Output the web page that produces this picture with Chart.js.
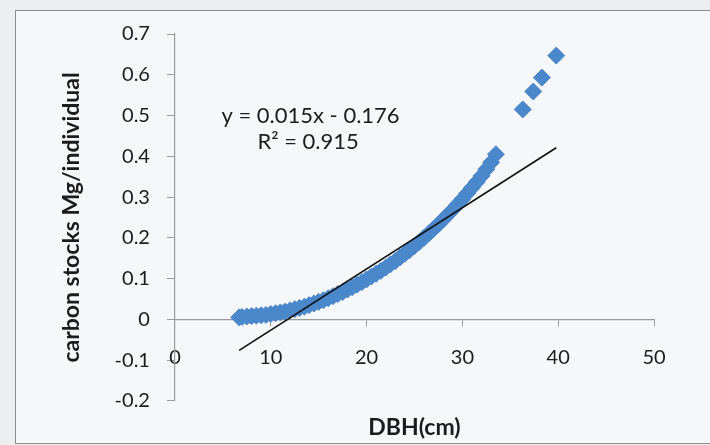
<!DOCTYPE html>
<html>
<head>
<meta charset="utf-8">
<script src="https://cdn.jsdelivr.net/npm/chart.js@4"></script>
<style>
  html, body { margin: 0; padding: 0; background: #eceef0; }
  #frame {
    position: absolute; left: 15px; top: 10px; width: 710px; height: 432px;
    border: 1.5px solid #8c8c8c; background: #f6f7f9;
  }
  #wrap { position: absolute; left: 0; top: 0; width: 710px; height: 445px; }
</style>
</head>
<body>
<div id="frame"></div>
<div id="wrap"><canvas id="chart" width="710" height="445"></canvas></div>
<script>
// DBH (cm) of each tree and its carbon stock (Mg/individual)
const dbh = [
  6.7, 7, 7.5, 8, 8.5, 9, 9.5, 10, 10.5, 11, 11.5, 12, 12.5, 13, 13.5, 14, 14.5,
  15, 15.5, 16, 16.5, 17, 17.5, 18, 18.5, 19, 19.5, 20, 20.5, 21, 21.5, 22, 22.5,
  23, 23.5, 24, 24.5, 25, 25.5, 26, 26.5, 27, 27.5, 28, 28.5, 29, 29.5, 30, 30.5,
  31, 31.5, 32, 32.5, 33, 33.5,
  36.3, 37.4, 38.3, 39.8
];
const carbon = [
  0.005, 0.006, 0.007, 0.008, 0.009, 0.010, 0.011, 0.013, 0.015, 0.017, 0.019, 0.022, 0.025, 0.028, 0.031, 0.035, 0.039,
  0.043, 0.047, 0.052, 0.057, 0.062, 0.067, 0.073, 0.079, 0.085, 0.091, 0.098, 0.105, 0.112, 0.119, 0.127, 0.135,
  0.143, 0.152, 0.161, 0.170, 0.180, 0.190, 0.200, 0.211, 0.222, 0.233, 0.245, 0.257, 0.269, 0.282, 0.295, 0.309,
  0.323, 0.337, 0.352, 0.368, 0.385, 0.405,
  0.515, 0.559, 0.593, 0.647
];

// linear trend line end points: y = 0.015x - 0.176
const trendX = [6.7, 39.8];
const trendY = [-0.076, 0.421];

const equationText = 'y = 0.015x - 0.176';
const r2Text = 'R² = 0.915';

const xTicks = [0, 10, 20, 30, 40, 50];
const yMin = -0.2, yMax = 0.7, yStep = 0.1;

const FONT = 'Lato, "Open Sans", sans-serif';
const TEXT = '#1c1c1c';
const AXIS = '#9a9a9a';

// подпись уравнения тренда
const equationLabel = {
  id: 'equationLabel',
  afterDatasetsDraw(chart) {
    const { ctx, scales } = chart;
    ctx.save();
    ctx.fillStyle = TEXT;
    ctx.font = '22px ' + FONT;
    ctx.textAlign = 'center';
    ctx.textBaseline = 'middle';
    ctx.fillText(equationText, scales.x.getPixelForValue(14.15), scales.y.getPixelForValue(0.5));
    ctx.fillText(r2Text, scales.x.getPixelForValue(13.9), scales.y.getPixelForValue(0.436));
    ctx.restore();
  }
};

const points = dbh.map((x, i) => ({ x: x, y: carbon[i] }));
const trend = trendX.map((x, i) => ({ x: x, y: trendY[i] }));

new Chart(document.getElementById('chart'), {
  type: 'scatter',
  data: {
    datasets: [
      {
        label: 'carbon stocks',
        data: points,
        pointStyle: 'rectRot',
        pointRadius: 8.5,
        pointBorderWidth: 1,
        backgroundColor: '#4a88cb',
        borderColor: '#4a88cb',
        order: 2
      },
      {
        label: 'Linear trend',
        type: 'line',
        data: trend,
        borderColor: '#111111',
        borderWidth: 1.6,
        pointRadius: 0,
        fill: false,
        order: 1
      }
    ]
  },
  options: {
    responsive: false,
    animation: false,
    layout: { padding: { left: 58, right: 56, top: 34, bottom: 1.5 } },
    plugins: {
      legend: { display: false },
      tooltip: { enabled: false },
      title: {
        display: true,
        position: 'bottom',
        fullSize: false,
        text: 'DBH(cm)',
        color: TEXT,
        font: { family: FONT, size: 23, weight: 'bold' },
        padding: { top: 13, bottom: 2 }
      }
    },
    scales: {
      x: {
        type: 'linear',
        position: { y: 0 },
        min: 0,
        max: 50,
        afterBuildTicks: axis => { axis.ticks = xTicks.map(v => ({ value: v })); },
        grid: { drawOnChartArea: false, drawTicks: true, tickLength: 6, color: AXIS },
        border: { display: true, color: AXIS, width: 1.2 },
        ticks: { color: TEXT, font: { family: FONT, size: 20 }, padding: 20 }
      },
      y: {
        min: yMin,
        max: yMax,
        ticks: {
          stepSize: yStep,
          color: TEXT,
          font: { family: FONT, size: 20 },
          padding: 17,
          callback: v => String(Math.round(v * 10) / 10)
        },
        grid: { drawOnChartArea: false, drawTicks: true, tickLength: 8, color: AXIS },
        border: { display: true, color: AXIS, width: 1.2 },
        title: {
          display: true,
          text: 'carbon stocks Mg/individual',
          color: TEXT,
          font: { family: FONT, size: 23, weight: 'bold' },
          padding: { top: 0, bottom: 12 }
        }
      }
    }
  },
  plugins: [equationLabel]
});
</script>
</body>
</html>
